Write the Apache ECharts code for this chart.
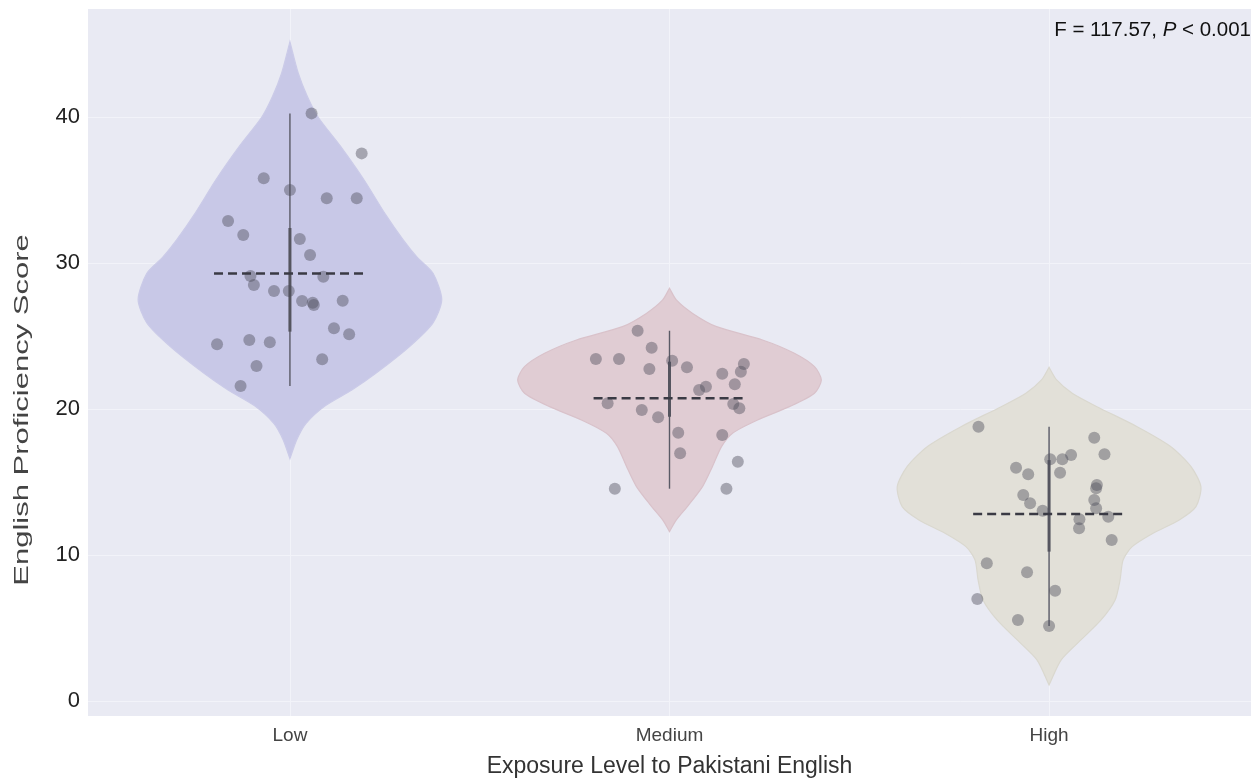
<!DOCTYPE html>
<html>
<head>
<meta charset="utf-8">
<script src="https://cdn.jsdelivr.net/npm/echarts@6/dist/echarts.min.js"></script>
<style>html,body{margin:0;padding:0;background:#fff;}#c{width:1251px;height:782px;}</style>
</head>
<body>
<div id="c"></div>
<script>
// ---- data ----
const categories = ['Low', 'Medium', 'High'];
const yTicks = [0, 10, 20, 30, 40];
const xTitle = 'Exposure Level to Pakistani English';
const yTitle = 'English Proficiency Score';
const statText = 'F = 117.57, {i|P} < 0.001';

// violin outlines: [score, half-width in category units]
const violinLow = [[45.16,0],[43.0,0.022],[41.4,0.046],[40.0,0.074],[37.97,0.134],[35.7,0.195],[33.4,0.250],[31.6,0.298],[30.4,0.335],[29.3,0.377],[27.5,0.400],[25.9,0.377],[24.3,0.316],[22.5,0.229],[21.3,0.163],[20.2,0.092],[19.0,0.042],[17.9,0.018],[16.6,0]];
const violinMedium = [[28.27,0],[27.47,0.018],[26.55,0.061],[25.64,0.124],[24.73,0.245],[23.82,0.329],[22.90,0.382],[21.99,0.400],[21.08,0.382],[20.16,0.316],[19.25,0.232],[18.34,0.166],[17.42,0.137],[16.05,0.113],[14.68,0.087],[13.31,0.047],[12.40,0.018],[11.60,0]];
const violinHigh = [[22.86,0],[21.99,0.020],[21.08,0.061],[20.16,0.126],[18.79,0.232],[17.42,0.321],[16.05,0.374],[14.68,0.400],[13.31,0.387],[12.40,0.343],[11.49,0.274],[10.57,0.219],[9.66,0.195],[8.29,0.187],[6.92,0.174],[5.55,0.137],[4.18,0.084],[2.81,0.032],[1.10,0]];

// jittered observations: [horizontal jitter, score]
const pointsLow = [[0.057,40.25],[0.189,37.51],[-0.069,35.80],[0.000,35.00],[0.097,34.43],[0.176,34.43],[-0.163,32.88],[-0.123,31.92],[0.026,31.64],[0.053,30.55],[-0.104,29.11],[-0.095,28.49],[0.088,29.06],[-0.042,28.08],[-0.003,28.08],[0.032,27.40],[0.060,27.28],[0.063,27.12],[0.139,27.42],[0.116,25.53],[0.156,25.12],[-0.192,24.43],[-0.107,24.73],[-0.053,24.57],[0.085,23.40],[-0.088,22.95],[-0.130,21.58]];
const pointsMedium = [[-0.084,25.36],[-0.047,24.20],[-0.194,23.42],[-0.133,23.42],[0.007,23.31],[-0.053,22.74],[0.046,22.86],[0.196,23.08],[0.188,22.55],[0.139,22.42],[0.172,21.69],[0.096,21.53],[0.078,21.30],[-0.163,20.39],[-0.073,19.93],[-0.030,19.43],[0.168,20.34],[0.184,20.05],[0.023,18.38],[0.139,18.22],[0.028,16.97],[0.180,16.39],[-0.144,14.54],[0.150,14.54]];
const pointsHigh = [[-0.186,18.79],[0.119,18.03],[0.146,16.90],[0.003,16.55],[0.035,16.55],[0.058,16.85],[0.029,15.64],[-0.087,15.98],[-0.055,15.53],[0.126,14.79],[0.124,14.57],[-0.068,14.11],[-0.050,13.54],[0.119,13.77],[0.124,13.20],[-0.017,13.03],[0.156,12.62],[0.080,12.45],[0.079,11.83],[0.165,11.03],[-0.164,9.43],[-0.058,8.82],[-0.189,6.99],[0.016,7.55],[-0.082,5.55],[0.000,5.14]];

// summary stats per group
const whiskerMin = [21.58, 14.54, 5.14];
const whiskerMax = [40.25, 25.36, 18.79];
const quart1 = [25.3, 19.47, 10.23];
const quart3 = [32.4, 23.24, 16.5];
const means = [29.29, 20.73, 12.81];

// ---- styling ----
const profiles = [violinLow, violinMedium, violinHigh];
const pointSets = [pointsLow, pointsMedium, pointsHigh];
const fills = ['#C8C8E7', '#E0CCD3', '#E2E0D8'];
const strokes = ['#CBCBE8', '#D9C2CA', '#DAD8CF'];
const FONT = '"Liberation Sans", Arial, sans-serif';

const scatterData = [];
pointSets.forEach((set, g) => set.forEach(([dx, v]) => scatterData.push([g + dx, v])));

const chart = echarts.init(document.getElementById('c'));
chart.setOption({
  animation: false,
  backgroundColor: '#ffffff',
  grid: { left: 88, top: 9, right: 0, bottom: 66, outerBoundsMode: 'none', containLabel: false, show: true, backgroundColor: '#E9EAF3', borderWidth: 0 },
  xAxis: {
    type: 'value', min: -0.532, max: 2.532,
    name: xTitle, nameLocation: 'middle', nameGap: 39,
    nameTextStyle: { fontFamily: FONT, fontSize: 23, color: '#333' },
    axisLine: { show: false }, axisTick: { show: false, customValues: [0, 1, 2] },
    axisLabel: { customValues: [0, 1, 2], formatter: v => categories[Math.round(v)], fontFamily: FONT, fontSize: 19, color: '#444', margin: 10 },
    splitLine: { show: true, lineStyle: { color: '#F2F3F9', width: 1 } }
  },
  yAxis: {
    type: 'value', min: -1.03, max: 47.4,
    axisLine: { show: false }, axisTick: { show: false, customValues: yTicks },
    axisLabel: { customValues: yTicks, fontFamily: FONT, fontSize: 22, color: '#222', margin: 8 },
    splitLine: { show: true, lineStyle: { color: '#F2F3F9', width: 1 } }
  },
  graphic: [
    {
      type: 'text', right: 0, top: 20,
      style: { text: statText, fontFamily: FONT, fontSize: 20.5, fill: '#111', rich: { i: { fontStyle: 'italic', fontFamily: FONT, fontSize: 20.5, fill: '#111' } } }
    },
    {
      type: 'text', x: 22, y: 410, rotation: Math.PI / 2, scaleX: 1.55, scaleY: 1,
      style: { text: yTitle, fontFamily: FONT, fontSize: 20, fill: '#444', align: 'center', verticalAlign: 'middle' }
    }
  ],
  series: [
    {
      type: 'custom', z: 1,
      data: [[0], [1], [2]],
      renderItem: (params, api) => {
        const g = params.dataIndex;
        const prof = profiles[g];
        const left = prof.map(([v, w]) => api.coord([g - w, v]));
        const right = prof.slice().reverse().map(([v, w]) => api.coord([g + w, v]));
        const wTop = api.coord([g, whiskerMax[g]]), wBot = api.coord([g, whiskerMin[g]]);
        const qTop = api.coord([g, quart3[g]]), qBot = api.coord([g, quart1[g]]);
        return { type: 'group', children: [
          { type: 'polygon', shape: { points: left.concat(right), smooth: 0.25 }, style: { fill: fills[g], stroke: strokes[g], lineWidth: 1.2 } },
          { type: 'line', shape: { x1: wTop[0], y1: wTop[1], x2: wBot[0], y2: wBot[1] }, style: { stroke: '#5a5a66', lineWidth: 1.4 } },
          { type: 'line', shape: { x1: qTop[0], y1: qTop[1], x2: qBot[0], y2: qBot[1] }, style: { stroke: '#55555f', lineWidth: 3 } }
        ] };
      }
    },
    {
      type: 'scatter', z: 2, data: scatterData, symbolSize: 12,
      itemStyle: { color: 'rgba(78,78,92,0.55)' }
    },
    {
      type: 'custom', z: 3,
      data: [[0], [1], [2]],
      renderItem: (params, api) => {
        const g = params.dataIndex;
        const a = api.coord([g - 0.2, means[g]]), b = api.coord([g + 0.2, means[g]]);
        return { type: 'line', shape: { x1: a[0], y1: a[1], x2: b[0], y2: b[1] }, style: { stroke: '#3a3a44', lineWidth: 2.5, lineDash: [9, 5] } };
      }
    }
  ]
});
</script>
</body>
</html>
